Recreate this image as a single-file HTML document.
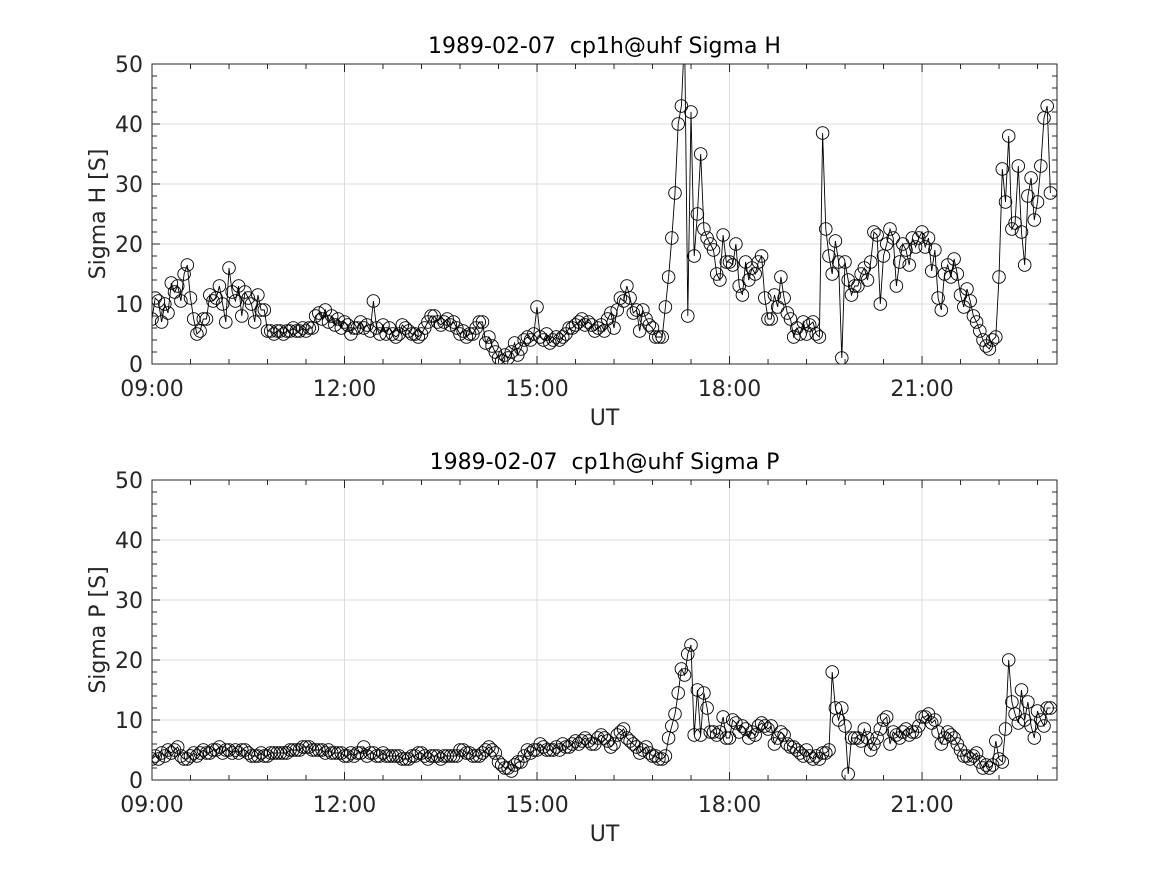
<!DOCTYPE html>
<html><head><meta charset="utf-8">
<style>
body{margin:0;background:#fff;}
svg{display:block;font-family:"DejaVu Sans","Liberation Sans",sans-serif;}
</style></head>
<body>
<svg id="chart" width="1167" height="875" viewBox="0 0 1167 875">
<rect width="1167" height="875" fill="#fff"/>
</svg>
<script>
const xTickLabels = ["09:00","12:00","15:00","18:00","21:00"];
const yTickLabels = [0,10,20,30,40,50];
const startHour = 9;
const stepMinutes = 3;
const sigmaH = [
7.5,11,10.5,7,10,8.5,13.5,12,13,10.5,15,16.5,11,7.5,5,5.5,7.5,7.5,11.5,10.5,
11,13,10,7,16,12,10.5,13,8,12,11,10,7,11.5,9,9,5.5,5.5,5,5.5,
5.5,5,5.5,5.5,6,5.5,5.5,6,5.5,6,6,8,8.5,7.5,9,7,8,6.5,7.5,6,
7,6.5,5,6,6,7,6,6.5,5.5,10.5,6,5,6.5,5,6,5,4.5,5,6.5,6,
5.5,5,5,4.5,5,6,7,8,8,7,6.5,7,7.5,6.5,7,6,5,5.5,4.5,5,
5,6,7,7,3.5,4.5,3,2,1,0.5,1.5,1,2,3.5,1.5,2.5,4,4.5,4,5,
9.5,4.5,4,5,3.5,4,4.5,4,4.5,5,6,6,6.5,7,7.5,6.5,7,6.5,5.5,6,
6.5,5.5,7.5,8.5,6,9,11,10.5,13,11,8.5,9,5.5,9,7.5,6.5,6,4.5,4.5,4.5,
9.5,14.5,21,28.5,40,43,55,8,42,18,25,35,22.5,21,20,19,15,14,21.5,17,
17,16.5,20,13,11.5,17,14,16,15,17,18,11,7.5,7.5,11.5,9.5,14.5,11,8.5,7.5,
4.5,6,5,7,5,6.5,7,5,4.5,38.5,22.5,18,15,20.5,17,1,17,14,11.5,13,
13,15,16,14,17,22,21.5,10,18,20,22.5,21,13,17,20,19,16.5,21,19.5,21,
22,19.5,21,15.5,19,11,9,15,16.5,14.5,17.5,15,11.5,9.5,12.5,10.5,8,7,5.5,4,
3,2.5,4,4.5,14.5,32.5,27,38,22.5,23.5,33,22,16.5,28,31,24,27,33,41,43,28.5];
const sigmaP = [
3.5,4,3.5,4.5,4,5,4.5,5,5.5,4,3.5,3.5,4,4.5,4,4.5,5,4.5,4.5,5,
5,5.5,4.5,5,5,4.5,5,4.5,5,5,4.5,4,4,4,4.5,4,4,4.5,4.5,4.5,
4.5,4.5,4.5,5,5,5,5,5.5,5.5,5.5,5,5,5,5,4.5,5,4.5,4.5,4.5,4.5,
4,4,4.5,4,4.5,4.5,5.5,4,4.5,4.5,4,4,4.5,4,4,4,4,4,3.5,3.5,
3.5,4,4,4.5,4.5,4,3.5,4,4,4,3.5,4,4,4,4,4,5,5,4.5,4.5,
4,4,4,4.5,5,5.5,5,4.5,3,2.5,2,2,1.5,2.5,3,3,4,5,4.5,5,
5,6,5.5,5,5,5,5.5,5,6,5.5,5.5,6,6.5,6,6.5,7,6.5,6,6,7,
7.5,7,6.5,5.5,6,7.5,8,8.5,7,6.5,6,5.5,4.5,5,5.5,4.5,4,4,3.5,3.5,
4,7,9,11,14.5,18.5,17.5,21,22.5,7.5,15,7.5,14.5,12,8,8,7.5,8,10.5,7,
7,10,9.5,8,9,8.5,7,8,7.5,9,9.5,9,8.5,9,6,7,8,7.5,6,5.5,
5.5,5,4.5,4,5,4,3.5,4,3.5,4.5,4.5,5,18,12,10,12,9,1,7,7,
7,6.5,8.5,7,5,6,7,8.5,10,10.5,6,8,7.5,7,8,8.5,7.5,8,8,9,
10.5,10.5,11,9.5,10,8,6,7,8,7.5,7,6,5,4,4,3.5,4,4.5,3,2,
2.5,2,2.5,6.5,3.5,3,8.5,20,13,11,9.5,15,10,13,9,7,11.5,10,9,12,12];

const NS="http://www.w3.org/2000/svg";
const svg=document.getElementById('chart');
const X0=152, X1=1057, PXH=64.17;
function mk(tag,attrs,parent){const e=document.createElementNS(NS,tag);for(const k in attrs)e.setAttribute(k,attrs[k]);(parent||svg).appendChild(e);return e;}
function xScale(hours){return X0+(hours-startHour)*PXH;}

function panel(top,data,title,ylabel,key){
  const bot=top+300;
  const yScale=v=>bot-v*6;
  const g=mk('g',{});
  
  
  const cid='clip-'+key;
  const cp=mk('clipPath',{id:cid},g);mk('rect',{x:X0,y:top,width:X1-X0,height:300},cp);
  yTickLabels.forEach(v=>{if(v>0&&v<50){const l=mk('line',{x1:X0,x2:X1,y1:yScale(v),y2:yScale(v),stroke:'#dcdcdc','stroke-width':1},g);
    }});
  xTickLabels.forEach((t,i)=>{const x=xScale(9+3*i);if(i>0){const l=mk('line',{x1:x,x2:x,y1:top,y2:bot,stroke:'#dcdcdc','stroke-width':1},g);
    }});
  let pts=data.map((v,i)=>[xScale(startHour+i*stepMinutes/60),yScale(v)]);
  const sg=mk('g',{'clip-path':'url(#'+cid+')'},g);
  
  
  const pl=mk('polyline',{points:pts.map(p=>p[0].toFixed(1)+','+p[1].toFixed(1)).join(' '),fill:'none',stroke:'#000','stroke-width':0.9},sg);
  
  
  pts.forEach(p=>{const c=mk('circle',{cx:p[0].toFixed(1),cy:p[1].toFixed(1),r:6.3,fill:'none',stroke:'#000','stroke-width':0.9},sg);
    
    });
  const box=mk('rect',{x:X0,y:top,width:X1-X0,height:300,fill:'none',stroke:'#262626','stroke-width':1},g);
  
  for(let v=0;v<=50;v+=2){const y=yScale(v);const len=(v%10===0)?8:5;
    mk('line',{x1:X0,x2:X0+len,y1:y,y2:y,stroke:'#262626'},g);
    mk('line',{x1:X1,x2:X1-len,y1:y,y2:y,stroke:'#262626'},g);}
  yTickLabels.forEach(v=>{const t=mk('text',{x:X0-9,y:yScale(v)+8,'text-anchor':'end','font-size':22,fill:'#262626'},g);t.textContent=v;
    });
  for(let m=0;m<=14*60;m+=36){const x=xScale(9+m/60);if(x>X1)break;const len=(m%180===0)?8:5;
    mk('line',{x1:x,x2:x,y1:bot,y2:bot-len,stroke:'#262626'},g);
    mk('line',{x1:x,x2:x,y1:top,y2:top+len,stroke:'#262626'},g);}
  xTickLabels.forEach((s,i)=>{const t=mk('text',{x:xScale(9+3*i),y:bot+32,'text-anchor':'middle','font-size':22,fill:'#262626'},g);t.textContent=s;
    });
  const xl=mk('text',{x:(X0+X1)/2,y:bot+61,'text-anchor':'middle','font-size':22,fill:'#262626'},g);xl.textContent='UT';
  
  const yl=mk('text',{x:0,y:0,'text-anchor':'middle','font-size':22,fill:'#262626',transform:'translate(105,'+(top+150)+') rotate(-90)'},g);yl.textContent=ylabel;
  
  const tt=mk('text',{x:(X0+X1)/2,y:top-11,'text-anchor':'middle','font-size':22,fill:'#000','xml:space':'preserve',style:'white-space:pre'},g);tt.textContent=title;
  
}
panel(64,sigmaH,'1989-02-07  cp1h@uhf Sigma H','Sigma H [S]','sigma-h');
panel(480,sigmaP,'1989-02-07  cp1h@uhf Sigma P','Sigma P [S]','sigma-p');
</script>
</body></html>
